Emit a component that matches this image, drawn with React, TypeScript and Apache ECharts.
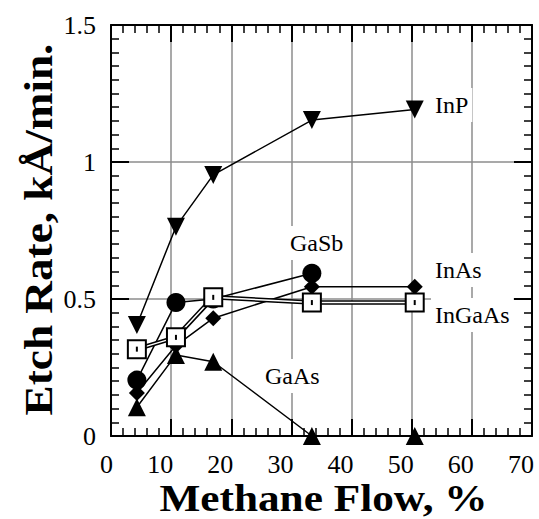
import React, { useEffect, useRef } from "react";
import * as echarts from "echarts";

// Methane flow (%) of each measured column
const flowX = [4.3, 10.8, 17.0, 33.4, 50.5];
// Etch rates, kÅ/min
const inP = [0.405, 0.764, 0.953, 1.153, 1.192];
const gaSb = [0.204, 0.487, 0.5, 0.594];
const inAs = [0.157, 0.33, 0.43, 0.545, 0.545];
const inGaAs = [0.317, 0.36, 0.506, 0.487, 0.487];
const gaAs = [0.105, 0.296, 0.271, 0, 0];

const xTicks = [0, 10, 20, 30, 40, 50, 60, 70];
const yTickLabels = ["0", "0.5", "1", "1.5"];

const labelNames = ["InP", "GaSb", "InAs", "InGaAs", "GaAs"];
const xTitle = "Methane Flow, %";
const yTitle = "Etch Rate, kÅ/min.";

const FONT = '"Liberation Serif", "Times New Roman", serif';

const pts = (ys: number[]) => ys.map((y, i) => [flowX[i], y]);

export default function App() {
  const ref = useRef<HTMLDivElement>(null);
  useEffect(() => {
    if (!ref.current) return;
    const chart = echarts.init(ref.current, null, { renderer: "svg" });
    const black = "#000";
    const baseX = {
      type: "value",
      min: xTicks[0],
      max: xTicks[xTicks.length - 1],
      interval: 10,
      axisLine: { show: true, onZero: false, lineStyle: { color: black, width: 2 } },
      axisTick: { show: true, inside: true, length: 17, lineStyle: { color: black, width: 2 } },
      minorTick: { show: true, splitNumber: 5, length: 8, lineStyle: { color: black, width: 1.5 } },
    };
    const baseY = {
      type: "value",
      min: 0,
      max: 1.5,
      interval: 0.5,
      axisLine: { show: true, onZero: false, lineStyle: { color: black, width: 2 } },
      axisTick: { show: true, inside: true, length: 18, lineStyle: { color: black, width: 2 } },
      minorTick: { show: true, splitNumber: 10, length: 8, lineStyle: { color: black, width: 1.5 } },
    };
    const lineSeries = (name: string, data: number[], symbol: string, size: number, z: number, rotate = 0) => ({
      name,
      type: "line",
      data: pts(data),
      symbol,
      symbolSize: size,
      symbolRotate: rotate,
      showSymbol: true,
      z,
      itemStyle: { color: black, opacity: 1 },
      lineStyle: { color: black, width: 1.5 },
    });
    const labelPos: Record<string, [number, number]> = {
      InP: [431, 105],
      GaSb: [286, 243],
      InAs: [431, 270],
      InGaAs: [431, 315],
      GaAs: [261, 376],
    };
    chart.setOption({
      animation: false,
      backgroundColor: "#fff",
      grid: { left: 111, top: 25, right: 7, bottom: 83, containLabel: false, outerBoundsMode: "none" },
      xAxis: [
        {
          ...baseX,
          position: "bottom",
          axisLabel: { show: true, fontFamily: FONT, fontSize: 26, color: black, align: "right", margin: 15, padding: [0, -2, 0, 0] },
          splitLine: { show: true, lineStyle: { color: "#8c8c8c", width: 1.5 } },
        },
        { ...baseX, position: "top", axisLabel: { show: false }, splitLine: { show: false } },
      ],
      yAxis: [
        {
          ...baseY,
          position: "left",
          axisLabel: {
            show: true,
            fontFamily: FONT,
            fontSize: 26,
            color: black,
            margin: 15,
            formatter: (v: number) => yTickLabels[Math.round(v / 0.5)] ?? String(v),
          },
          splitLine: { show: true, lineStyle: { color: "#8c8c8c", width: 1.5 } },
        },
        { ...baseY, position: "right", axisLabel: { show: false }, splitLine: { show: false } },
      ],
      graphic: [
        ...labelNames.map((t) => ({
          type: "text",
          z: 1,
          x: labelPos[t][0],
          y: labelPos[t][1],
          style: {
            text: t,
            font: `24px ${FONT}`,
            fill: black,
            verticalAlign: "middle",
            backgroundColor: "#fff",
            padding: [5, 4],
          },
        })),
        {
          type: "text",
          z: 1,
          x: 323.5,
          y: 499,
          scaleX: 1.17,
          style: {
            text: xTitle,
            font: `bold 37px ${FONT}`,
            fill: black,
            align: "center",
            verticalAlign: "middle",
          },
        },
        {
          type: "text",
          z: 1,
          x: 38.5,
          y: 229.5,
          rotation: Math.PI / 2,
          scaleX: 1.16,
          style: {
            text: yTitle,
            font: `bold 39px ${FONT}`,
            fill: black,
            align: "center",
            verticalAlign: "middle",
          },
        },
      ],
      series: [
        lineSeries("GaAs", gaAs, "triangle", 18, 3),
        lineSeries("InAs", inAs, "diamond", 16, 4),
        lineSeries("GaSb", gaSb, "circle", 19, 5),
        lineSeries("InP", inP, "triangle", 18, 6, 180),
        {
          name: "InGaAs",
          type: "line",
          data: pts(inGaAs),
          showSymbol: false,
          symbol: "none",
          z: 7,
          lineStyle: { color: black, width: 4.5 },
        },
        {
          name: "InGaAs inner",
          type: "line",
          data: pts(inGaAs),
          showSymbol: false,
          symbol: "none",
          z: 8,
          lineStyle: { color: "#fff", width: 1.5 },
        },
        {
          name: "InGaAs marks",
          type: "scatter",
          data: pts(inGaAs),
          symbol: "rect",
          symbolSize: 18,
          z: 9,
          itemStyle: { color: "#fff", borderColor: black, borderWidth: 2, opacity: 1 },
        },
        {
          name: "InGaAs dots",
          type: "scatter",
          data: pts(inGaAs),
          symbol: "rect",
          symbolSize: [2, 5],
          z: 10,
          itemStyle: { color: black, opacity: 1 },
        },
      ],
    });
    return () => chart.dispose();
  }, []);
  return (
    <div
      ref={ref}
      style={{ position: "absolute", left: 0, top: 0, width: 539, height: 519, background: "#fff" }}
    />
  );
}
